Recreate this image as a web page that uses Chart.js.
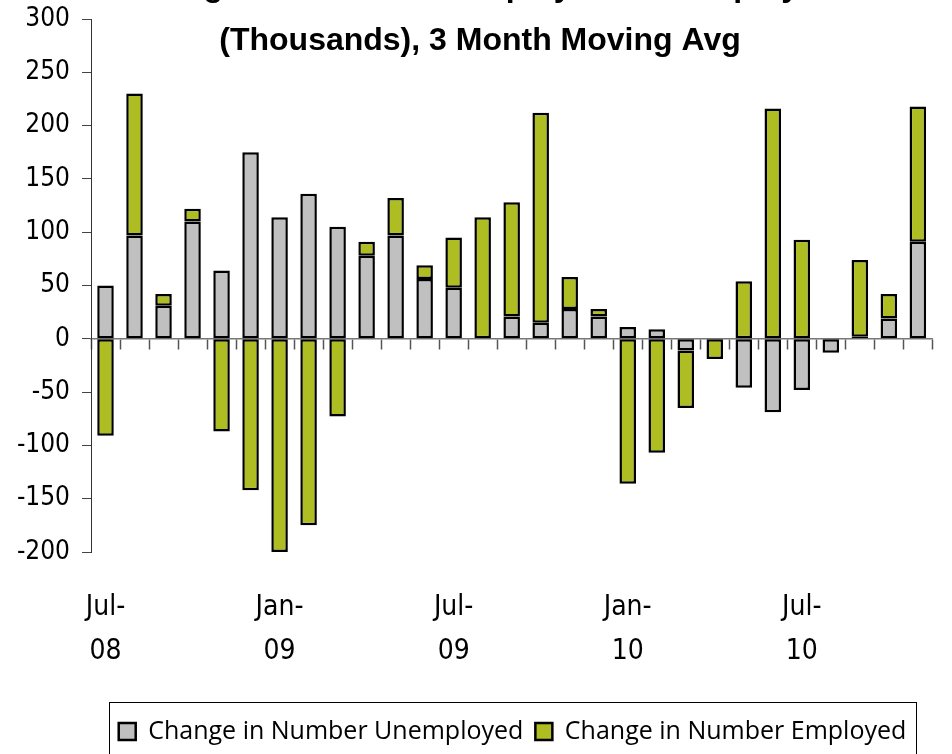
<!DOCTYPE html>
<html>
<head>
<meta charset="utf-8">
<script src="https://cdn.jsdelivr.net/npm/chart.js@4.4.0/dist/chart.umd.min.js"></script>
<style>
  html, body { margin: 0; padding: 0; background: #fff; }
  #wrap { width: 952px; height: 754px; }
</style>
</head>
<body>
<div id="wrap"><canvas id="chart" width="952" height="754"></canvas></div>
<script>
// months, Jul-08 .. Nov-10
const months = ["Jul-08", "Aug-08", "Sep-08", "Oct-08", "Nov-08", "Dec-08",
  "Jan-09", "Feb-09", "Mar-09", "Apr-09", "May-09", "Jun-09",
  "Jul-09", "Aug-09", "Sep-09", "Oct-09", "Nov-09", "Dec-09",
  "Jan-10", "Feb-10", "Mar-10", "Apr-10", "May-10", "Jun-10",
  "Jul-10", "Aug-10", "Sep-10", "Oct-10", "Nov-10"];

// thousands, 3 month moving avg
const unemployed = [50, 97, 31, 110, 64, 175,
  114, 136, 105, 78, 97, 56,
  48, 0, 21, 15, 28, 21,
  11, 9, -11, 0, -46, -69,
  -48, -13, 2, 19, 91];
const employed = [-91, 133, 11, 12, -87, -142,
  -200, -175, -73, 13, 35, 13,
  47, 114, 107, 197, 30, 7,
  -136, -107, -54, -19, 54, 216,
  93, 0, 72, 23, 127];

const yTicks = [-200, -150, -100, -50, 0, 50, 100, 150, 200, 250, 300];
const titleLines = ["Change in Number Unemployed and Employed", "(Thousands), 3 Month Moving Avg"];

const GREY = "#C0C0C0";
const GREEN = "#AEBD22";
const narrow = "'Liberation Sans Narrow', 'Arial Narrow', 'DejaVu Sans Condensed', sans-serif";

// title is partly cut off at the top in the original, so draw it by hand
const titlePlugin = {
  id: "cutTitle",
  afterDraw(chart) {
    const ctx = chart.ctx;
    ctx.save();
    ctx.fillStyle = "#000";
    ctx.font = "bold 32px 'Liberation Sans', Arial, sans-serif";
    ctx.textAlign = "center";
    ctx.textBaseline = "alphabetic";
    ctx.fillText(titleLines[0], 480, -4);
    ctx.fillText(titleLines[1], 480, 50);
    ctx.restore();
  }
};

// legend sits a bit right of centre in the original
const legendShift = {
  id: "legendShift",
  afterLayout(chart) {
    const lg = chart.legend;
    if (!lg) return;
    lg.left += 41;
    lg.right += 41;
  }
};

// frame round the legend
const legendFrame = {
  id: "legendFrame",
  afterDraw(chart) {
    const lg = chart.legend;
    if (!lg || !lg.legendHitBoxes.length) return;
    const boxes = lg.legendHitBoxes;
    const first = boxes[0], last = boxes[boxes.length - 1];
    const ctx = chart.ctx;
    ctx.save();
    ctx.strokeStyle = "#000";
    ctx.lineWidth = 1;
    const l = Math.round(first.left - 10) + 0.5;
    const r = Math.round(last.left + last.width + 10) + 0.5;
    const t = Math.round(lg.top - 5) + 0.5;
    ctx.strokeRect(l, t, r - l, 80);
    ctx.restore();
  }
};

new Chart(document.getElementById("chart"), {
  type: "bar",
  data: {
    labels: months,
    datasets: [
      {
        label: "Change in Number Unemployed",
        data: unemployed,
        backgroundColor: GREY,
        borderColor: "#000",
        borderWidth: 2.5,
        borderSkipped: false,
        barPercentage: 0.57,
        categoryPercentage: 1
      },
      {
        label: "Change in Number Employed",
        data: employed,
        backgroundColor: GREEN,
        borderColor: "#000",
        borderWidth: 2.5,
        borderSkipped: false,
        barPercentage: 0.57,
        categoryPercentage: 1
      }
    ]
  },
  options: {
    responsive: false,
    animation: false,
    layout: { padding: { top: 19, right: 9, bottom: 0, left: 0 } },
    plugins: {
      title: { display: false },
      tooltip: { enabled: false },
      legend: {
        position: "bottom",
        labels: {
          color: "#000",
          font: { family: "'Open Sans', sans-serif", size: 25 },
          boxWidth: 17,
          boxHeight: 17,
          padding: 12
        }
      }
    },
    scales: {
      x: {
        stacked: true,
        offset: true,
        grid: { display: false, drawTicks: false, offset: true },
        border: { display: false },
        ticks: {
          autoSkip: false,
          maxRotation: 0,
          padding: 34,
          color: "#000",
          font: { family: narrow, size: 28, lineHeight: 1.57 },
          callback: function (val, i) {
            if (i % 6 !== 0) return "";
            const m = months[i];
            return [m.slice(0, 4), m.slice(4)];
          }
        },
        afterFit: function (scale) { scale.height = 155; }
      },
      xz: {
        type: "category",
        axis: "x",
        position: { y: 0 },
        offset: true,
        grid: { offset: true, drawOnChartArea: false, tickLength: 10, color: "#555", tickWidth: 1.5 },
        border: { color: "#777", width: 1.5 },
        ticks: { display: false }
      },
      y: {
        stacked: true,
        min: -200,
        max: 300,
        afterBuildTicks: function (scale) {
          scale.ticks = yTicks.map(v => ({ value: v }));
        },
        grid: { drawOnChartArea: false, tickLength: 9, color: "#444" },
        border: { color: "#333", width: 1 },
        ticks: {
          padding: 12,
          color: "#000",
          font: { family: narrow, size: 26, lineHeight: 0.5 }
        },
        afterFit: function (scale) { scale.width = 91; }
      }
    }
  },
  plugins: [titlePlugin, legendShift, legendFrame]
});
</script>
</body>
</html>
